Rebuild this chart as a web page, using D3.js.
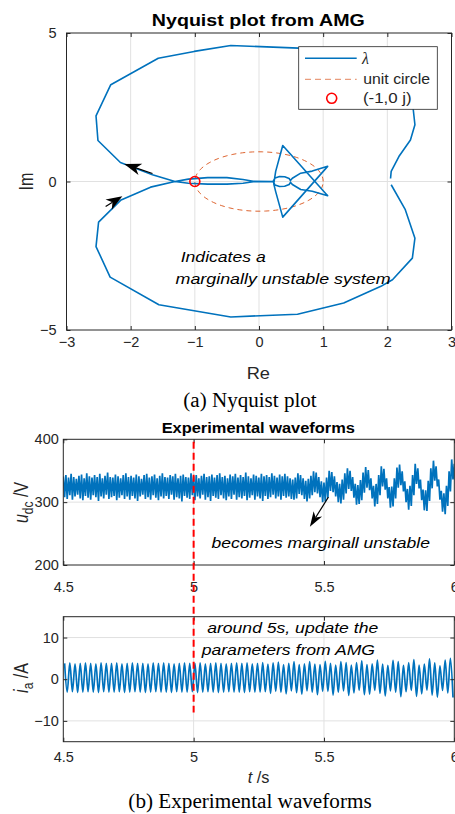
<!DOCTYPE html>
<html>
<head>
<meta charset="utf-8">
<script src="https://cdn.jsdelivr.net/npm/d3@7"></script>
<style>
  body { margin: 0; background: #fff; }
  svg { display: block; font-family: "Liberation Sans", Arial, Helvetica, sans-serif; }
</style>
</head>
<body>
<div id="figure"></div>
<script>
// ---- data ----

// Nyquist locus of lambda, one continuous path (Re, Im)
const nyqRe = [2.06, 2.28, 2.43, 2.39, 2.08, 1.90, 1.32, 0.60, -0.44, -1.56, -2.32, -2.54, -2.50, -2.15, -1.69, -1.31,
  -1.10, -0.80, -0.50, -0.25, -0.09, 0.22, 0.25, 0.32, 0.40, 0.47, 0.49, 0.52, 0.65, 0.83, 1.07, 0.37, 0.26, 0.23,
  0.26, 0.37, 1.07, 0.83, 0.65, 0.52, 0.49, 0.47, 0.40, 0.32, 0.25, 0.22, -0.09, -0.25, -0.50, -0.80, -1.10, -1.31,
  -1.66, -2.16, -2.51, -2.54, -2.31, -1.57, -1.01, -0.44, 0.62, 1.32, 1.90, 2.10, 2.40, 2.43, 2.36, 2.18, 2.06, 2.05];
const nyqIm = [-0.11, -0.95, -1.91, -2.58, -3.31, -3.53, -4.09, -4.47, -4.56, -4.15, -3.22, -2.19, -1.37, -0.62, -0.19, 0.00,
  0.08, 0.13, 0.13, 0.07, 0.01, 0.00, 0.12, 0.17, 0.16, 0.10, 0.03, 0.11, 0.28, 0.35, 0.51, -1.20, -0.34, -0.08,
  0.34, 1.21, -0.48, -0.33, -0.27, -0.10, -0.03, -0.10, -0.16, -0.17, -0.12, 0.00, -0.01, -0.06, -0.09, -0.09, -0.06, 0.00,
  0.23, 0.64, 1.38, 2.21, 3.26, 4.15, 4.38, 4.58, 4.49, 4.08, 3.52, 3.25, 2.50, 1.91, 1.40, 0.84, 0.34, 0.10];

const nyqXTicks = [-3, -2, -1, 0, 1, 2, 3];
const nyqYTicks = [-5, 0, 5];
const legendLabels = ["\u03bb", "unit circle", "(-1,0 j)"];

// u_dc: max / min of each 10 ms window starting at 4.50 s
const udcStart = 4.5, udcStep = 0.01;
const udcMax = [341,343,339,345,340,337,342,344,338,346,341,339,343,340,345,338,342,347,340,339,
  344,341,338,343,346,340,342,339,344,341,337,343,345,339,341,344,338,342,346,340,
  339,343,341,345,338,342,344,340,339,346,341,343,338,342,345,340,341,344,339,343,
  346,340,342,338,344,341,345,339,343,340,347,341,338,344,342,339,345,341,343,340,
  346,342,339,344,341,345,
  341,338,336,339,346,343,338,334,337,342,349,347,340,333,331,339,350,348,341,332,
  329,336,346,354,350,340,329,327,335,347,356,351,338,326,329,343,357,353,338,324,
  325,338,355,360,349,333,321,326,343,361,354,336,320,319,334,354,366,357,336,318,
  314,326,349,368,361];
const udcMin = [308,305,311,304,309,312,306,303,310,307,304,311,308,302,309,306,312,305,308,310,
  303,307,311,305,309,304,310,306,302,309,312,305,308,304,311,307,303,309,306,310,
  305,312,304,308,306,301,310,307,305,311,303,309,306,312,304,308,302,310,307,305,
  311,306,303,309,305,312,304,308,306,310,303,307,311,304,309,306,302,310,305,308,
  312,306,309,304,310,307,
  309,305,304,306,313,311,305,301,306,311,316,314,308,300,301,307,318,316,309,300,
  298,304,314,321,318,307,296,297,303,315,323,319,306,293,297,311,325,320,306,291,
  293,306,323,327,317,300,288,294,311,329,322,303,287,286,302,322,334,325,304,285,
  281,294,317,336,329];
const udcXTicks = [4.5, 5, 5.5, 6];
const udcYTicks = [200, 300, 400];

// i_a: peak and trough of each 50 Hz cycle starting at 4.50 s
const iaStart = 4.5, iaPeriod = 0.02;
const iaPeak = [3.8,3.9,3.7,3.8,3.9,3.8,3.7,3.9,3.8,3.8,3.9,3.7,3.8,3.9,3.8,3.8,3.7,3.9,3.8,3.9,
  3.8,3.7,3.8,3.9,3.8,3.8,3.9,3.7,3.8,3.9,3.8,3.7,3.8,3.9,3.8,3.9,3.7,3.8,
  4.0,3.6,3.9,4.1,3.5,3.8,4.2,3.5,3.7,4.2,3.6,3.5,4.3,3.8,3.4,4.2,4.0,3.4,4.0,4.4,3.5,3.7,
  4.6,3.6,3.3,4.5,4.2,3.3,4.0,4.7,3.4,3.6,4.9,3.9,3.2,4.6,5.0];
const iaTrough = [-3.1,-3.0,-3.2,-3.1,-3.0,-3.1,-3.2,-3.0,-3.1,-3.1,-3.0,-3.2,-3.1,-3.0,-3.1,-3.2,-3.1,-3.0,-3.1,-3.1,
  -3.2,-3.0,-3.1,-3.1,-3.0,-3.2,-3.1,-3.0,-3.1,-3.2,-3.1,-3.0,-3.1,-3.1,-3.2,-3.0,-3.1,-3.1,
  -3.0,-3.4,-2.9,-3.1,-3.5,-2.8,-3.2,-3.6,-2.8,-3.1,-3.7,-2.9,-2.9,-3.8,-3.1,-2.8,-3.9,-3.3,-2.7,-3.7,-3.6,-2.7,
  -3.4,-4.0,-2.8,-3.1,-4.2,-3.0,-2.7,-4.1,-3.5,-2.6,-3.8,-4.3,-2.7,-3.3,-4.4];
const iaYTicks = [-10, 0, 10];

const updateTime = 5;

// ---- style ----
const W = 455, H = 814;
const BLUE = "#0072BD", ORANGE = "#D95319", AXIS = "#262626", GRID = "#e1e1e1";
const SERIF = "'Liberation Serif', 'Times New Roman', serif";

// ---- helpers ----

// light grid at the tick positions inside the plot box
function drawAxes(g, x, y, o) {
  const [x0, x1] = x.range(), [y0, y1] = y.range();
  g.append("g").selectAll("line").data(o.xTicks.filter(d => d > x.domain()[0] && d < x.domain()[1]))
    .join("line")
    .attr("x1", d => x(d)).attr("x2", d => x(d)).attr("y1", y0).attr("y2", y1)
    .attr("stroke", GRID).attr("stroke-width", 1);
  g.append("g").selectAll("line").data(o.yTicks.filter(d => d > y.domain()[0] && d < y.domain()[1]))
    .join("line")
    .attr("y1", d => y(d)).attr("y2", d => y(d)).attr("x1", x0).attr("x2", x1)
    .attr("stroke", GRID).attr("stroke-width", 1);
}

// box with inward ticks on all four sides, matlab style
function drawFrame(g, x, y, o) {
  const [x0, x1] = x.range(), [y0, y1] = y.range();
  const style = sel => {
    sel.select(".domain").remove();
    sel.selectAll("line").attr("stroke", AXIS);
    sel.selectAll("text").attr("fill", AXIS).attr("font-size", o.fontSize || 14.5);
  };
  g.append("g").attr("transform", `translate(0,${y0})`)
    .call(d3.axisBottom(x).tickValues(o.xTicks).tickSize(-4).tickPadding(o.xPad).tickFormat(d3.format("~g")))
    .call(style);
  g.append("g").attr("transform", `translate(0,${y1})`)
    .call(d3.axisTop(x).tickValues(o.xTicks).tickSize(-4).tickFormat(""))
    .call(style);
  g.append("g").attr("transform", `translate(${x0},0)`)
    .call(d3.axisLeft(y).tickValues(o.yTicks).tickSize(-4).tickPadding(o.yPad).tickFormat(d3.format("~g")))
    .call(style);
  g.append("g").attr("transform", `translate(${x1},0)`)
    .call(d3.axisRight(y).tickValues(o.yTicks).tickSize(-4).tickFormat(""))
    .call(style);
  g.append("rect").attr("x", x0).attr("y", y1).attr("width", x1 - x0).attr("height", y0 - y1)
    .attr("fill", "none").attr("stroke", AXIS).attr("stroke-width", 1);
}

// annotation arrow with a swept back head
function arrow(g, xa, ya, xb, yb, len, wid) {
  const a = Math.atan2(yb - ya, xb - xa);
  const ux = Math.cos(a), uy = Math.sin(a), px = -uy, py = ux;
  const bx = xb - ux * len, by = yb - uy * len;
  const nx = xb - ux * len * 0.72, ny = yb - uy * len * 0.72;
  g.append("line").attr("x1", xa).attr("y1", ya).attr("x2", nx).attr("y2", ny)
    .attr("stroke", "#000").attr("stroke-width", 1.2);
  g.append("path")
    .attr("d", `M${xb},${yb}L${bx + px * wid / 2},${by + py * wid / 2}L${nx},${ny}L${bx - px * wid / 2},${by - py * wid / 2}Z`)
    .attr("fill", "#000");
}

function label(g, txt, x, y, o) {
  return g.append("text").attr("x", x).attr("y", y).text(txt)
    .attr("font-size", o.size).attr("fill", o.fill || "#000")
    .attr("font-weight", o.bold ? "bold" : null)
    .attr("font-style", o.italic ? "italic" : null)
    .attr("font-family", o.family || null)
    .attr("text-anchor", o.anchor || "start")
    .attr("textLength", o.len || null)
    .attr("lengthAdjust", o.len ? "spacingAndGlyphs" : null);
}

// rotated y label, glyphs widened like the stretched original
function yLabel(g, x, y, parts) {
  const t = g.append("text").attr("transform", `translate(${x},${y}) rotate(-90) scale(1,1.25)`)
    .attr("text-anchor", "middle").attr("font-size", 16).attr("fill", AXIS);
  parts.forEach(p => {
    t.append("tspan").text(p.t)
      .attr("font-style", p.i ? "italic" : null)
      .attr("font-size", p.s || null)
      .attr("dy", p.dy || 0);
  });
}

// ---- main ----
function main() {
  const svg = d3.select("#figure").append("svg").attr("width", W).attr("height", H);
  const defs = svg.append("defs");

  /* ---------- (a) Nyquist plot ---------- */
  const x1 = d3.scaleLinear().domain([-3, 3]).range([66.5, 451.5]);
  const y1 = d3.scaleLinear().domain([-5, 5]).range([330, 33]);
  const g1 = svg.append("g");
  drawAxes(g1, x1, y1, { xTicks: nyqXTicks, yTicks: nyqYTicks });

  defs.append("clipPath").attr("id", "clipA").append("rect")
    .attr("x", 66.5).attr("y", 33).attr("width", 385).attr("height", 297);

  // unit circle
  const circ = d3.range(0, 361, 3).map(a => [Math.cos(a * Math.PI / 180), Math.sin(a * Math.PI / 180)]);
  g1.append("path").datum(circ)
    .attr("d", d3.line().x(d => x1(d[0])).y(d => y1(d[1])))
    .attr("fill", "none").attr("stroke", ORANGE).attr("stroke-width", 1)
    .attr("stroke-dasharray", "5,4").attr("opacity", 0.9);

  const nyq = nyqRe.map((r, i) => [r, nyqIm[i]]);
  g1.append("path").datum(nyq).attr("clip-path", "url(#clipA)")
    .attr("d", d3.line().x(d => x1(d[0])).y(d => y1(d[1])))
    .attr("fill", "none").attr("stroke", BLUE).attr("stroke-width", 1.6)
    .attr("stroke-linejoin", "round");

  // (-1, 0j) marker
  g1.append("circle").attr("cx", x1(-1)).attr("cy", y1(0)).attr("r", 5)
    .attr("fill", "none").attr("stroke", "#ff0000").attr("stroke-width", 1.6);

  drawFrame(g1, x1, y1, { xTicks: nyqXTicks, yTicks: nyqYTicks, xPad: 7, yPad: 10 });

  // direction arrows
  arrow(g1, x1(-1.66), y1(0.27), x1(-2.10), y1(0.59), 17, 12);
  arrow(g1, x1(-2.39), y1(-0.84), x1(-2.13), y1(-0.50), 16, 12);

  label(g1, "Indicates a", x1(-1.22), y1(-2.72), { size: 15, italic: true, len: 85 });
  label(g1, "marginally unstable system", x1(-1.30), y1(-3.45), { size: 15, italic: true, len: 215 });

  // legend
  const lg = g1.append("g");
  lg.append("rect").attr("x", 298.7).attr("y", 46.7).attr("width", 138.6).attr("height", 62.6)
    .attr("fill", "#fff").attr("stroke", AXIS).attr("stroke-width", 0.8);
  lg.append("line").attr("x1", 305).attr("x2", 356.7).attr("y1", 58.3).attr("y2", 58.3)
    .attr("stroke", BLUE).attr("stroke-width", 1.6);
  lg.append("line").attr("x1", 305).attr("x2", 356.7).attr("y1", 79.3).attr("y2", 79.3)
    .attr("stroke", ORANGE).attr("stroke-width", 1).attr("stroke-dasharray", "6,4").attr("opacity", 0.7);
  lg.append("circle").attr("cx", 331.7).attr("cy", 98.3).attr("r", 5)
    .attr("fill", "none").attr("stroke", "#ff0000").attr("stroke-width", 1.6);
  label(lg, legendLabels[0], 362, 63.5, { size: 16, italic: true, family: SERIF, fill: AXIS });
  label(lg, legendLabels[1], 363.3, 83.5, { size: 14, fill: AXIS, len: 66.7 });
  label(lg, legendLabels[2], 363, 102.5, { size: 14, fill: AXIS, len: 48.7 });

  label(svg, "Nyquist plot from AMG", 258.3, 26, { size: 17, bold: true, anchor: "middle", len: 213 });
  label(svg, "Re", 258.3, 379.3, { size: 16, anchor: "middle", fill: AXIS, len: 23.3 });
  yLabel(svg, 33, 181.5, [{ t: "Im" }]);
  label(svg, "(a) Nyquist plot", 250, 406.5, { size: 20, anchor: "middle", family: SERIF, len: 133.3 });

  /* ---------- (b) experimental waveforms ---------- */
  const xT = d3.scaleLinear().domain([4.5, 6]).range([63.3, 454.3]);
  const yU = d3.scaleLinear().domain([200, 400]).range([565, 439.3]);
  const yI = d3.scaleLinear().domain([-15, 15]).range([741.7, 616.7]);

  defs.append("clipPath").attr("id", "clipU").append("rect")
    .attr("x", 63.3).attr("y", 439.3).attr("width", 391).attr("height", 125.7);
  defs.append("clipPath").attr("id", "clipI").append("rect")
    .attr("x", 63.3).attr("y", 616.7).attr("width", 391).attr("height", 125);

  const g2 = svg.append("g");
  drawAxes(g2, xT, yU, { xTicks: udcXTicks, yTicks: udcYTicks });
  const udc = [];
  udcMax.forEach((v, k) => {
    const t = udcStart + k * udcStep;
    udc.push([t, v], [t + udcStep / 2, udcMin[k]]);
  });
  g2.append("path").datum(udc).attr("clip-path", "url(#clipU)")
    .attr("d", d3.line().x(d => xT(d[0])).y(d => yU(d[1])))
    .attr("fill", "none").attr("stroke", BLUE).attr("stroke-width", 1.7)
    .attr("stroke-linejoin", "bevel");
  drawFrame(g2, xT, yU, { xTicks: udcXTicks, yTicks: udcYTicks, xPad: 16.5, yPad: 4.5 });

  const g3 = svg.append("g");
  drawAxes(g3, xT, yI, { xTicks: udcXTicks, yTicks: iaYTicks });
  const ia = [];
  iaPeak.forEach((v, j) => {
    const t = iaStart + j * iaPeriod;
    ia.push([t + iaPeriod / 4, v], [t + iaPeriod * 3 / 4, iaTrough[j]]);
  });
  g3.append("path").datum(ia).attr("clip-path", "url(#clipI)")
    .attr("d", d3.line().x(d => xT(d[0])).y(d => yI(d[1])).curve(d3.curveMonotoneX))
    .attr("fill", "none").attr("stroke", BLUE).attr("stroke-width", 1.7);
  drawFrame(g3, xT, yI, { xTicks: udcXTicks, yTicks: iaYTicks, xPad: 10, yPad: 4.5 });

  // update instant, spans both axes
  svg.append("line").attr("x1", xT(updateTime)).attr("x2", xT(updateTime))
    .attr("y1", yU(396)).attr("y2", yI(-8))
    .attr("stroke", "#ff0000").attr("stroke-width", 2).attr("stroke-dasharray", "7,4");

  arrow(svg, xT(5.517), yU(308), xT(5.446), yU(261), 15, 10);
  label(svg, "becomes marginall unstable", xT(5.069), 547.7, { size: 15, italic: true, len: 218.3 });
  label(svg, "around 5s, update the", xT(5.052), 632.7, { size: 15, italic: true, len: 171 });
  label(svg, "parameters from AMG", xT(5.031), 655, { size: 15, italic: true, len: 173.3 });

  label(svg, "Experimental waveforms", 258.3, 433.3, { size: 14, bold: true, anchor: "middle", len: 193.3 });
  yLabel(svg, 28, 502.5, [{ t: "u", i: true }, { t: "dc", s: 12, dy: 4 }, { t: " /V", dy: -4 }]);
  yLabel(svg, 28, 678, [{ t: "i", i: true }, { t: "a", s: 12, dy: 4 }, { t: " /A", dy: -4 }]);
  const tl = svg.append("text").attr("x", 258.5).attr("y", 782.7).attr("text-anchor", "middle")
    .attr("font-size", 16).attr("fill", AXIS).attr("textLength", 21.7).attr("lengthAdjust", "spacingAndGlyphs");
  tl.append("tspan").attr("font-style", "italic").text("t");
  tl.append("tspan").text(" /s");
  label(svg, "(b) Experimental waveforms", 250, 808.3, { size: 20, anchor: "middle", family: SERIF, len: 243.3 });
}

main();
</script>
</body>
</html>
